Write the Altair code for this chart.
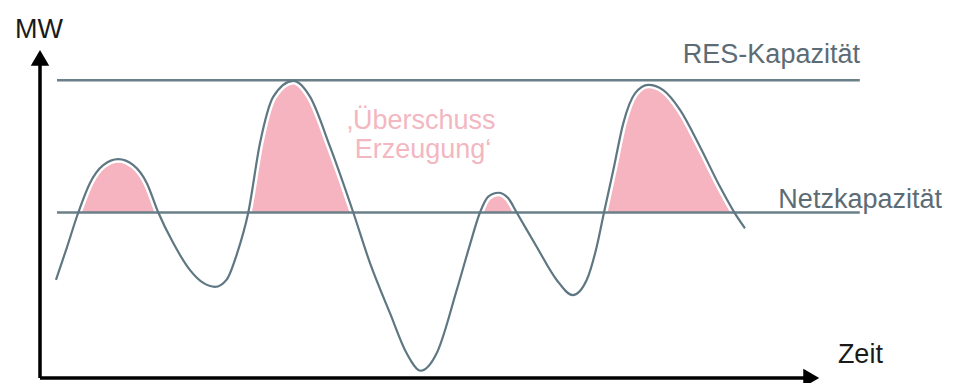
import altair as alt
import pandas as pd

# --- data (x: time 0..100, y: MW 0..100) ---
curve_x = [2.04, 3.41, 4.89, 6.39, 8.08, 10.00, 11.92, 13.63, 15.11, 17.02, 19.16, 20.86, 22.35,
           23.84, 25.12, 26.60, 28.10, 29.80, 32.35, 34.48, 37.04, 40.01, 42.15, 44.70, 46.83,
           48.62, 50.66, 53.22, 54.92, 56.19, 57.25, 58.53, 59.81, 60.88, 63.43, 65.99, 68.03,
           69.82, 71.10, 72.03, 73.22, 74.49, 75.99, 77.69, 79.60, 81.74, 84.29, 86.85, 88.63, 90.04]
curve_y = [29.5, 39.2, 50.0, 59.0, 64.4, 66.2, 64.4, 59.0, 50.0, 40.7, 32.5, 28.6, 27.4,
           29.6, 37.2, 50.0, 71.1, 85.2, 90.0, 85.2, 70.0, 50.0, 34.6, 19.4, 7.2,
           1.9, 7.2, 26.4, 40.3, 50.0, 54.8, 56.0, 54.3, 50.0, 39.6, 29.5, 24.9,
           29.5, 39.6, 50.0, 62.9, 77.1, 86.2, 88.8, 87.2, 81.2, 70.0, 57.8, 50.2, 45.2]

NETZ = 50.0
RES = 90.2

cap_names = ["RES-Kapazität", "Netzkapazität"]
cap_values = [RES, NETZ]
cap_start = [2.17, 2.17]
cap_end = [104.7, 104.7]

label_text = ["RES-Kapazität", "Netzkapazität", "MW", "Zeit"]
label_x = [82.1, 94.3, -3.2, 101.9]
label_y = [95.5, 51.5, 103.0, 4.2]
label_color = ["#5d6c74", "#5d6c74", "#1a1a1a", "#1a1a1a"]

note_text = ["‚Überschuss", "Erzeugung‘"]
note_x = [39.2, 40.2]
note_y = [75.4, 66.6]

LINE = "#5f7782"
PINK = "#f5b4bf"

xs = alt.Scale(domain=[0, 100], nice=False, zero=False)
ys = alt.Scale(domain=[0, 100], nice=False, zero=False)

curve = pd.DataFrame({"x": curve_x, "y": curve_y})
caps = pd.DataFrame({"name": cap_names, "y": cap_values, "x": cap_start, "x2": cap_end})
labels = pd.DataFrame({"t": label_text, "x": label_x, "y": label_y, "c": label_color})
notes = pd.DataFrame({"t": note_text, "x": note_x, "y": note_y})
axes_df = pd.DataFrame({"x": [0, 0], "y": [-0.3, -0.3], "x2": [0, 98.0], "y2": [96.0, -0.3]})
heads = pd.DataFrame({"x": [0, 98.5], "y": [97.0, -0.3], "s": ["triangle-up", "triangle-right"]})

base = alt.Chart(curve)

# surplus area: curve above the grid capacity, down to the grid capacity line
area = base.transform_calculate(
    yc=f"max(datum.y, {NETZ})", b=f"{NETZ}"
).mark_area(interpolate="monotone", fill=PINK, fillOpacity=1, stroke=None).encode(
    x=alt.X("x:Q", scale=xs, axis=None),
    y=alt.Y("yc:Q", scale=ys, axis=None, stack=None),
    y2="b:Q",
)

halo = base.mark_line(interpolate="monotone", color="white", strokeWidth=7).encode(
    x=alt.X("x:Q", scale=xs, axis=None),
    y=alt.Y("y:Q", scale=ys, axis=None),
)

cap_lines = alt.Chart(caps).mark_rule(color="#6a7f88", strokeWidth=2.5).encode(
    x=alt.X("x:Q", scale=xs, axis=None),
    x2="x2:Q",
    y=alt.Y("y:Q", scale=ys, axis=None),
)

line = base.mark_line(interpolate="monotone", color=LINE, strokeWidth=2.2).encode(
    x=alt.X("x:Q", scale=xs, axis=None),
    y=alt.Y("y:Q", scale=ys, axis=None),
)

axes_rules = alt.Chart(axes_df).mark_rule(color="#000000", strokeWidth=3.5).encode(
    x=alt.X("x:Q", scale=xs, axis=None),
    y=alt.Y("y:Q", scale=ys, axis=None),
    x2="x2:Q",
    y2="y2:Q",
)

arrow_heads = alt.Chart(heads).mark_point(filled=True, color="#000000", opacity=1, size=340).encode(
    x=alt.X("x:Q", scale=xs, axis=None),
    y=alt.Y("y:Q", scale=ys, axis=None),
    shape=alt.Shape("s:N", scale=None, legend=None),
)

label_marks = alt.Chart(labels).mark_text(
    align="left", baseline="alphabetic", font="Liberation Sans", fontSize=27
).encode(
    x=alt.X("x:Q", scale=xs, axis=None),
    y=alt.Y("y:Q", scale=ys, axis=None),
    text="t:N",
    color=alt.Color("c:N", scale=None, legend=None),
)

note_marks = alt.Chart(notes).mark_text(
    align="left", baseline="alphabetic", font="Liberation Sans", fontSize=27, color="#f3b7c1"
).encode(
    x=alt.X("x:Q", scale=xs, axis=None),
    y=alt.Y("y:Q", scale=ys, axis=None),
    text="t:N",
)

chart = alt.layer(area, halo, cap_lines, line, axes_rules, arrow_heads, label_marks, note_marks).properties(
    width=783,
    height=329,
    padding={"left": 32, "top": 40, "right": 129, "bottom": 6},
    autosize=alt.AutoSizeParams(type="none"),
    background="white",
).configure_view(stroke=None)

chart.save("out.html", embed_options={"renderer": "svg", "actions": False})
